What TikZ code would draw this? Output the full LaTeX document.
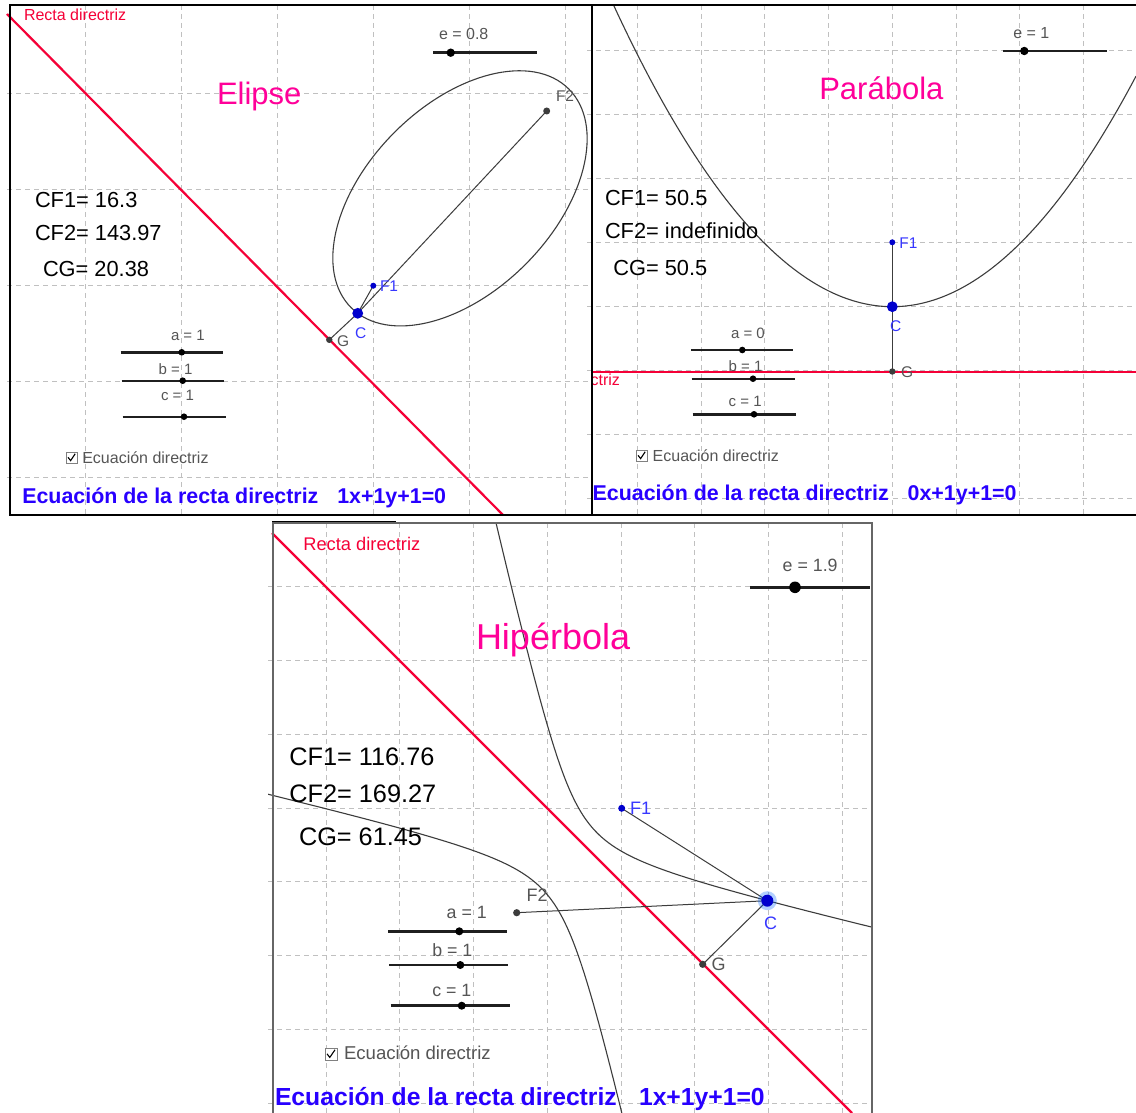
\documentclass[tikz,border=0pt]{standalone}
\usepackage{fontspec}
\setmainfont{Liberation Sans}
\definecolor{ggred}{RGB}{245,0,55}
\definecolor{ggmag}{RGB}{255,0,153}
\definecolor{ggblue}{RGB}{40,0,255}
\definecolor{ptblue}{RGB}{0,0,205}
\definecolor{lblue}{RGB}{55,55,255}
\definecolor{dgray}{RGB}{60,60,60}
\definecolor{gridc}{RGB}{192,192,192}
\definecolor{txtgray}{RGB}{85,85,85}
\newcommand{\myfs}[1]{\fontsize{#1}{#1}\selectfont}
\begin{document}
\begin{tikzpicture}[x=1pt,y=-1pt,
  gridl/.style={draw=gridc, line width=0.9pt, dash pattern=on 5pt off 4pt},
  redl/.style={draw=ggred, line width=2.2pt},
  conic/.style={draw=dgray, line width=1.1pt},
  seg/.style={draw=dgray, line width=1pt},
  sl/.style={draw=black!88, line width=2.4pt},
  slthick/.style={draw=black!88, line width=3pt},
  txt/.style={anchor=base west, inner sep=0pt, outer sep=0pt},
  info/.style={txt, text=black},
  sltxt/.style={txt, text=txtgray},
  lblb/.style={txt, text=lblue},
  lblg/.style={txt, text=txtgray},
  ttl/.style={txt, text=ggmag},
  rtxt/.style={txt, text=ggred},
  eqn/.style={txt, text=ggblue, font=\bfseries},
  cbox/.style={draw=gray, line width=0.8pt, fill=white},
  cmark/.style={draw=black, line width=1.1pt},
  border/.style={draw=black, line width=1.1pt},
  border3/.style={draw=black!60, line width=2pt}
]
\useasboundingbox[fill=white] (0,0) rectangle (1136,1113);

%%%%%%%%%%%%%%%% PANEL 1 : ELIPSE %%%%%%%%%%%%%%%%
\begin{scope}
\clip (5,0) rectangle (592,515);
\foreach \gx in {85,181,277,373,469,565} \draw[gridl] (\gx,5) -- (\gx,515);
\foreach \gy in {93,189,285,381,477} \draw[gridl] (7,\gy) -- (592,\gy);
\draw[redl] (7,14) -- (503,515);
\coordinate (M1) at (460,198.35);
\coordinate (F1a) at (373.3,285.7);
\coordinate (F2a) at (546.7,111);
\coordinate (Ca) at (357.7,313.3);
\coordinate (Ga) at (329.3,339.8);
\draw[conic, rotate around={45.2:(M1)}] (M1) ellipse [x radius=154.27pt, y radius=93pt];
\draw[seg] (Ca) -- (F1a);
\draw[seg] (Ca) -- (F2a);
\draw[seg] (Ca) -- (Ga);
\fill[ptblue] (F1a) circle (3);
\fill[dgray] (F2a) circle (3.5);
\fill[dgray] (Ga) circle (3.2);
\fill[ptblue] (Ca) circle (5.4);
\node[rtxt, font=\myfs{16}] (rd1) at (24,20.7) {Recta directriz};
\node[ttl, font=\myfs{31}] (t1) at (217,105) {Elipse};
\node[sltxt, font=\myfs{16}] (e1l) at (439,40) {e = 0.8};
\draw[sl] (433.3,52.7) -- (536.7,52.7);
\fill[black] (450.7,52.7) circle (4.2);
\node[info, font=\myfs{21.8}] (cf1a) at (35,207.5) {CF1= 16.3};
\node[info, font=\myfs{21.8}] (cf2a) at (35,240.5) {CF2= 143.97};
\node[info, font=\myfs{21.8}] (cga) at (43,276.5) {CG= 20.38};
\node[lblb, font=\myfs{15.5}] (lf1a) at (380,291.7) {F1};
\node[lblg, font=\myfs{15.5}] (lf2a) at (556,101.7) {F2};
\node[lblb, font=\myfs{15.5}] (lca) at (355,338.3) {C};
\node[lblg, font=\myfs{15.5}] (lga) at (337,346.7) {G};
\node[sltxt, font=\myfs{15}] (sa1) at (171,340) {a = 1};
\draw[sl] (120.7,352.3) -- (223.3,352.3);
\fill[black] (181.7,352.3) circle (3.3);
\node[sltxt, font=\myfs{15}] (sb1) at (158.7,374) {b = 1};
\draw[sl] (121.7,380.7) -- (224.3,380.7);
\fill[black] (182.7,380.7) circle (3.3);
\node[sltxt, font=\myfs{15}] (sc1) at (161,400) {c = 1};
\draw[sl] (122.7,416.7) -- (225.7,416.7);
\fill[black] (184,416.7) circle (3.3);
\draw[cbox] (66,452) rectangle (77,463);
\draw[cmark] (68,457.3) -- (70.6,460.6) -- (75.2,453.8);
\node[sltxt, font=\myfs{16}] (ck1) at (82.3,463) {Ecuación directriz};
\node[eqn, font=\myfs{21.4}\bfseries] (eq1) at (22.3,503.3) {Ecuación de la recta directriz\hspace{0.88em}1x+1y+1=0};
\end{scope}
\draw[border] (10,5) rectangle (592,515);

%%%%%%%%%%%%%%%% PANEL 2 : PARABOLA %%%%%%%%%%%%%%%%
\begin{scope}
\clip (587,0) rectangle (1136,515);
\foreach \gx in {637,701,764,828,892,956,1019,1083} \draw[gridl] (\gx,5) -- (\gx,515);
\foreach \gy in {50,114,178,242,306,370,434,498} \draw[gridl] (587,\gy) -- (1136,\gy);
\end{scope}
\begin{scope}
\clip (592,5) rectangle (1136,515);
\coordinate (F1b) at (892.3,242.3);
\coordinate (Cb) at (892.3,306.7);
\coordinate (Gb) at (892.3,371.5);
\draw[conic] plot[domain=600:1136, samples=120, variable=\q] ({\q}, {306.7 - ((\q-892.3)/16.05)*((\q-892.3)/16.05)});
\node[sltxt, font=\myfs{15}] (sb2) at (728.7,371.7) {b = 1};
\draw[redl, line width=2pt] (592,371.5) -- (1136,371.5);
\node[rtxt, font=\myfs{16}, anchor=base east] (rd2) at (620,385) {Recta directriz};
\draw[seg] (F1b) -- (Cb);
\draw[seg] (Cb) -- (Gb);
\fill[ptblue] (F1b) circle (3);
\fill[dgray] (Gb) circle (3.2);
\fill[ptblue] (Cb) circle (5.4);
\node[ttl, font=\myfs{31}] (t2) at (819.3,99.3) {Parábola};
\node[sltxt, font=\myfs{16}] (e2l) at (1013.3,38.3) {e = 1};
\draw[sl] (1003.3,51) -- (1107.3,51);
\fill[black] (1024.3,51) circle (4.2);
\node[info, font=\myfs{21.8}] (cf1b) at (605,206) {CF1= 50.5};
\node[info, font=\myfs{21.8}] (cf2b) at (605,238.5) {CF2= indefinido};
\node[info, font=\myfs{21.8}] (cgb) at (613.3,275) {CG= 50.5};
\node[lblb, font=\myfs{15.5}] (lf1b) at (899.3,248.3) {F1};
\node[lblb, font=\myfs{15.5}] (lcb) at (890,331.7) {C};
\node[lblg, font=\myfs{15.5}] (lgb) at (901,377.3) {G};
\node[sltxt, font=\myfs{15}] (sa2) at (731,338.3) {a = 0};
\draw[sl] (691,350) -- (793.3,350);
\fill[black] (742.3,350) circle (3.3);
\draw[sl] (691.7,378.7) -- (795,378.7);
\fill[black] (753,378.7) circle (3.3);
\node[sltxt, font=\myfs{15}] (sc2) at (728.7,406) {c = 1};
\draw[sl] (692.7,414.3) -- (796,414.3);
\fill[black] (754,414.3) circle (3.3);
\draw[cbox] (636,450) rectangle (647,461);
\draw[cmark] (638,455.3) -- (640.6,458.6) -- (645.2,451.8);
\node[sltxt, font=\myfs{16}] (ck2) at (652.7,461) {Ecuación directriz};
\node[eqn, font=\myfs{21.4}\bfseries] (eq2) at (592.7,500.7) {Ecuación de la recta directriz\hspace{0.88em}0x+1y+1=0};
\end{scope}
\draw[border] (592,5) -- (1136,5);
\draw[border] (592,5) -- (592,515) -- (1136,515);

%%%%%%%%%%%%%%%% PANEL 3 : HIPERBOLA %%%%%%%%%%%%%%%%
\draw[black, line width=1pt] (272,521) -- (396,521);
\begin{scope}
\clip (268,523) rectangle (872,1113);
\foreach \gx in {326,399,473,547,621,694,768,842} \draw[gridl] (\gx,523) -- (\gx,1113);
\foreach \gy in {586,660,734,808,881,955,1029,1103} \draw[gridl] (268,\gy) -- (872,\gy);
\draw[redl] (272,533) -- (852,1113);
\coordinate (F1c) at (621.7,808.3);
\coordinate (F2c) at (516.7,912.7);
\coordinate (Cc) at (767.3,900.7);
\coordinate (Gc) at (702.7,964.3);
\draw[conic] plot[domain=-2.6:2.6, samples=140, variable=\q]
  ({569.2 + 39.25*cosh(\q)*0.7091 + 62.77*sinh(\q)*0.7051}, {860.5 - 39.25*cosh(\q)*0.7051 + 62.77*sinh(\q)*0.7091});
\draw[conic] plot[domain=-2.6:2.6, samples=140, variable=\q]
  ({569.2 - 39.25*cosh(\q)*0.7091 + 62.77*sinh(\q)*0.7051}, {860.5 + 39.25*cosh(\q)*0.7051 + 62.77*sinh(\q)*0.7091});
\draw[seg] (Cc) -- (F1c);
\draw[seg] (Cc) -- (F2c);
\draw[seg] (Cc) -- (Gc);
\fill[ptblue] (F1c) circle (3.5);
\fill[dgray] (F2c) circle (3.6);
\fill[dgray] (Gc) circle (3.6);
\fill[blue!60!cyan, opacity=0.3] (Cc) circle (9.5);
\fill[ptblue] (Cc) circle (6);
\node[rtxt, font=\myfs{18.3}] (rd3) at (303.3,550) {Recta directriz};
\node[ttl, font=\myfs{36}] (t3) at (476,649.3) {Hipérbola};
\node[sltxt, font=\myfs{17.8}] (e3l) at (782.7,571.7) {e = 1.9};
\draw[slthick] (750,587.3) -- (870,587.3);
\fill[black] (795,587.3) circle (5.8);
\node[info, font=\myfs{25.3}] (cf1c) at (289.3,765) {CF1= 116.76};
\node[info, font=\myfs{25.3}] (cf2c) at (289.3,802.7) {CF2= 169.27};
\node[info, font=\myfs{25.3}] (cgc) at (299,845) {CG= 61.45};
\node[lblb, font=\myfs{18}] (lf1c) at (630,814.3) {F1};
\node[lblg, font=\myfs{18}] (lf2c) at (526.7,901.7) {F2};
\node[lblb, font=\myfs{18}] (lcc) at (764,929.3) {C};
\node[lblg, font=\myfs{18}] (lgc) at (711.7,970) {G};
\node[sltxt, font=\myfs{17.8}] (sa3) at (446.7,918.3) {a = 1};
\draw[slthick, line width=2.6pt] (388.3,931.3) -- (507.3,931.3);
\fill[black] (459.3,931.3) circle (4);
\node[sltxt, font=\myfs{17.8}] (sb3) at (432.3,956.7) {b = 1};
\draw[slthick, line width=2.6pt] (389,965) -- (508.3,965);
\fill[black] (460.3,965) circle (4);
\node[sltxt, font=\myfs{17.8}] (sc3) at (432.3,996) {c = 1};
\draw[slthick, line width=2.6pt] (390.7,1005.7) -- (509.7,1005.7);
\fill[black] (461.7,1005.7) circle (4);
\draw[cbox] (325,1048) rectangle (337,1060);
\draw[cmark] (327,1053.8) -- (329.8,1057.4) -- (335,1049.8);
\node[sltxt, font=\myfs{18.6}] (ck3) at (344,1059.3) {Ecuación directriz};
\node[eqn, font=\myfs{24.7}\bfseries] (eq3) at (275,1105) {Ecuación de la recta directriz\hspace{0.9em}1x+1y+1=0};
\end{scope}
\draw[border3] (273,1113) -- (273,523) -- (872,523) -- (872,1113);
\end{tikzpicture}
\end{document}
